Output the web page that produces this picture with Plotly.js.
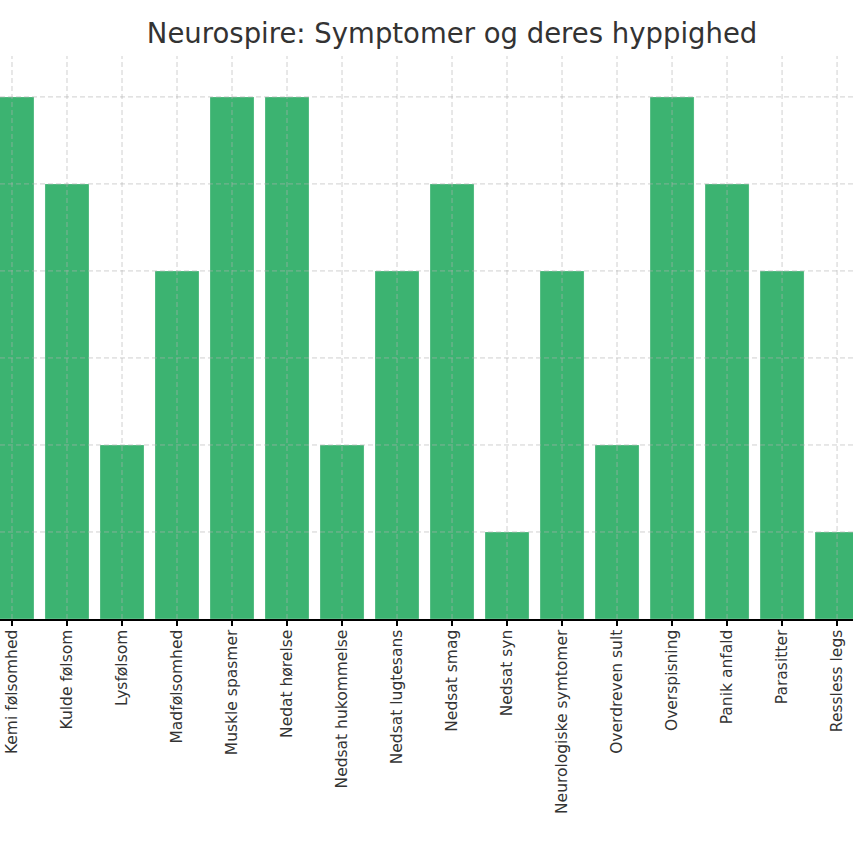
<!DOCTYPE html>
<html>
<head>
<meta charset="utf-8">
<script src="https://cdn.plot.ly/plotly-3.0.1.min.js"></script>
<style>
  html, body { margin: 0; padding: 0; background: #fff; }
  #chart { width: 853px; height: 853px; }
</style>
</head>
<body>
<div id="chart"></div>
<script>
var symptoms = [
    'Kemi følsomhed', 'Kulde følsom', 'Lysfølsom', 'Madfølsomhed',
    'Muskle spasmer', 'Nedat hørelse', 'Nedsat hukommelse', 'Nedsat lugtesans',
    'Nedsat smag', 'Nedsat syn', 'Neurologiske symtomer', 'Overdreven sult',
    'Overspisning', 'Panik anfald', 'Parasitter', 'Ressless legs'
];
var counts = [6, 5, 2, 4, 6, 6, 2, 4, 5, 1, 4, 2, 6, 5, 4, 1];
var yTicks = [1, 2, 3, 4, 5, 6];

// gridlines go on top of the bars, like the original
var gridStyle = { color: 'rgba(176,176,176,0.6)', width: 1, dash: '5px,3px' };
var shapes = [];
symptoms.forEach((s, i) => {
    shapes.push({ type: 'line', layer: 'above', xref: 'x', yref: 'paper',
        x0: i, x1: i, y0: 0, y1: 1, line: gridStyle });
});
yTicks.forEach(v => {
    shapes.push({ type: 'line', layer: 'above', xref: 'paper', yref: 'y',
        x0: 0, x1: 1, y0: v, y1: v, line: gridStyle });
});

var trace = {
    x: symptoms,
    y: counts,
    type: 'bar',
    width: 0.8,
    marker: { color: '#3CB371', line: { color: 'rgba(255,255,255,0.5)', width: 0.5 } },
    hoverinfo: 'x+y'
};

var layout = {
    width: 853,
    height: 853,
    margin: { l: 0, r: 0, t: 56, b: 234 },
    paper_bgcolor: '#fff',
    plot_bgcolor: '#fff',
    font: { family: 'DejaVu Sans', color: '#333' },
    title: {
        text: 'Neurospire: Symptomer og deres hyppighed',
        font: { size: 27.5, family: 'DejaVu Sans', color: '#333' },
        xref: 'paper', x: 0.53, xanchor: 'center',
        yref: 'container', y: 1 - 33 / 853, yanchor: 'middle'
    },
    xaxis: {
        type: 'category',
        categoryorder: 'array',
        categoryarray: symptoms,
        range: [-0.218, 15.29],
        showgrid: false,
        showline: true,
        linecolor: '#000',
        linewidth: 1.5,
        ticks: 'outside',
        ticklen: 5,
        tickwidth: 1.2,
        tickcolor: '#000',
        tickangle: -90,
        ticklabelstandoff: -2,
        tickfont: { size: 15.5, color: '#333' },
        zeroline: false
    },
    yaxis: {
        range: [0, 6.47],
        tickvals: yTicks,
        showticklabels: false,
        showgrid: false,
        zeroline: false,
        showline: false
    },
    shapes,
    showlegend: false,
    bargap: 0.2
};

Plotly.newPlot('chart', [trace], layout, { displayModeBar: false, staticPlot: true });
</script>
</body>
</html>
